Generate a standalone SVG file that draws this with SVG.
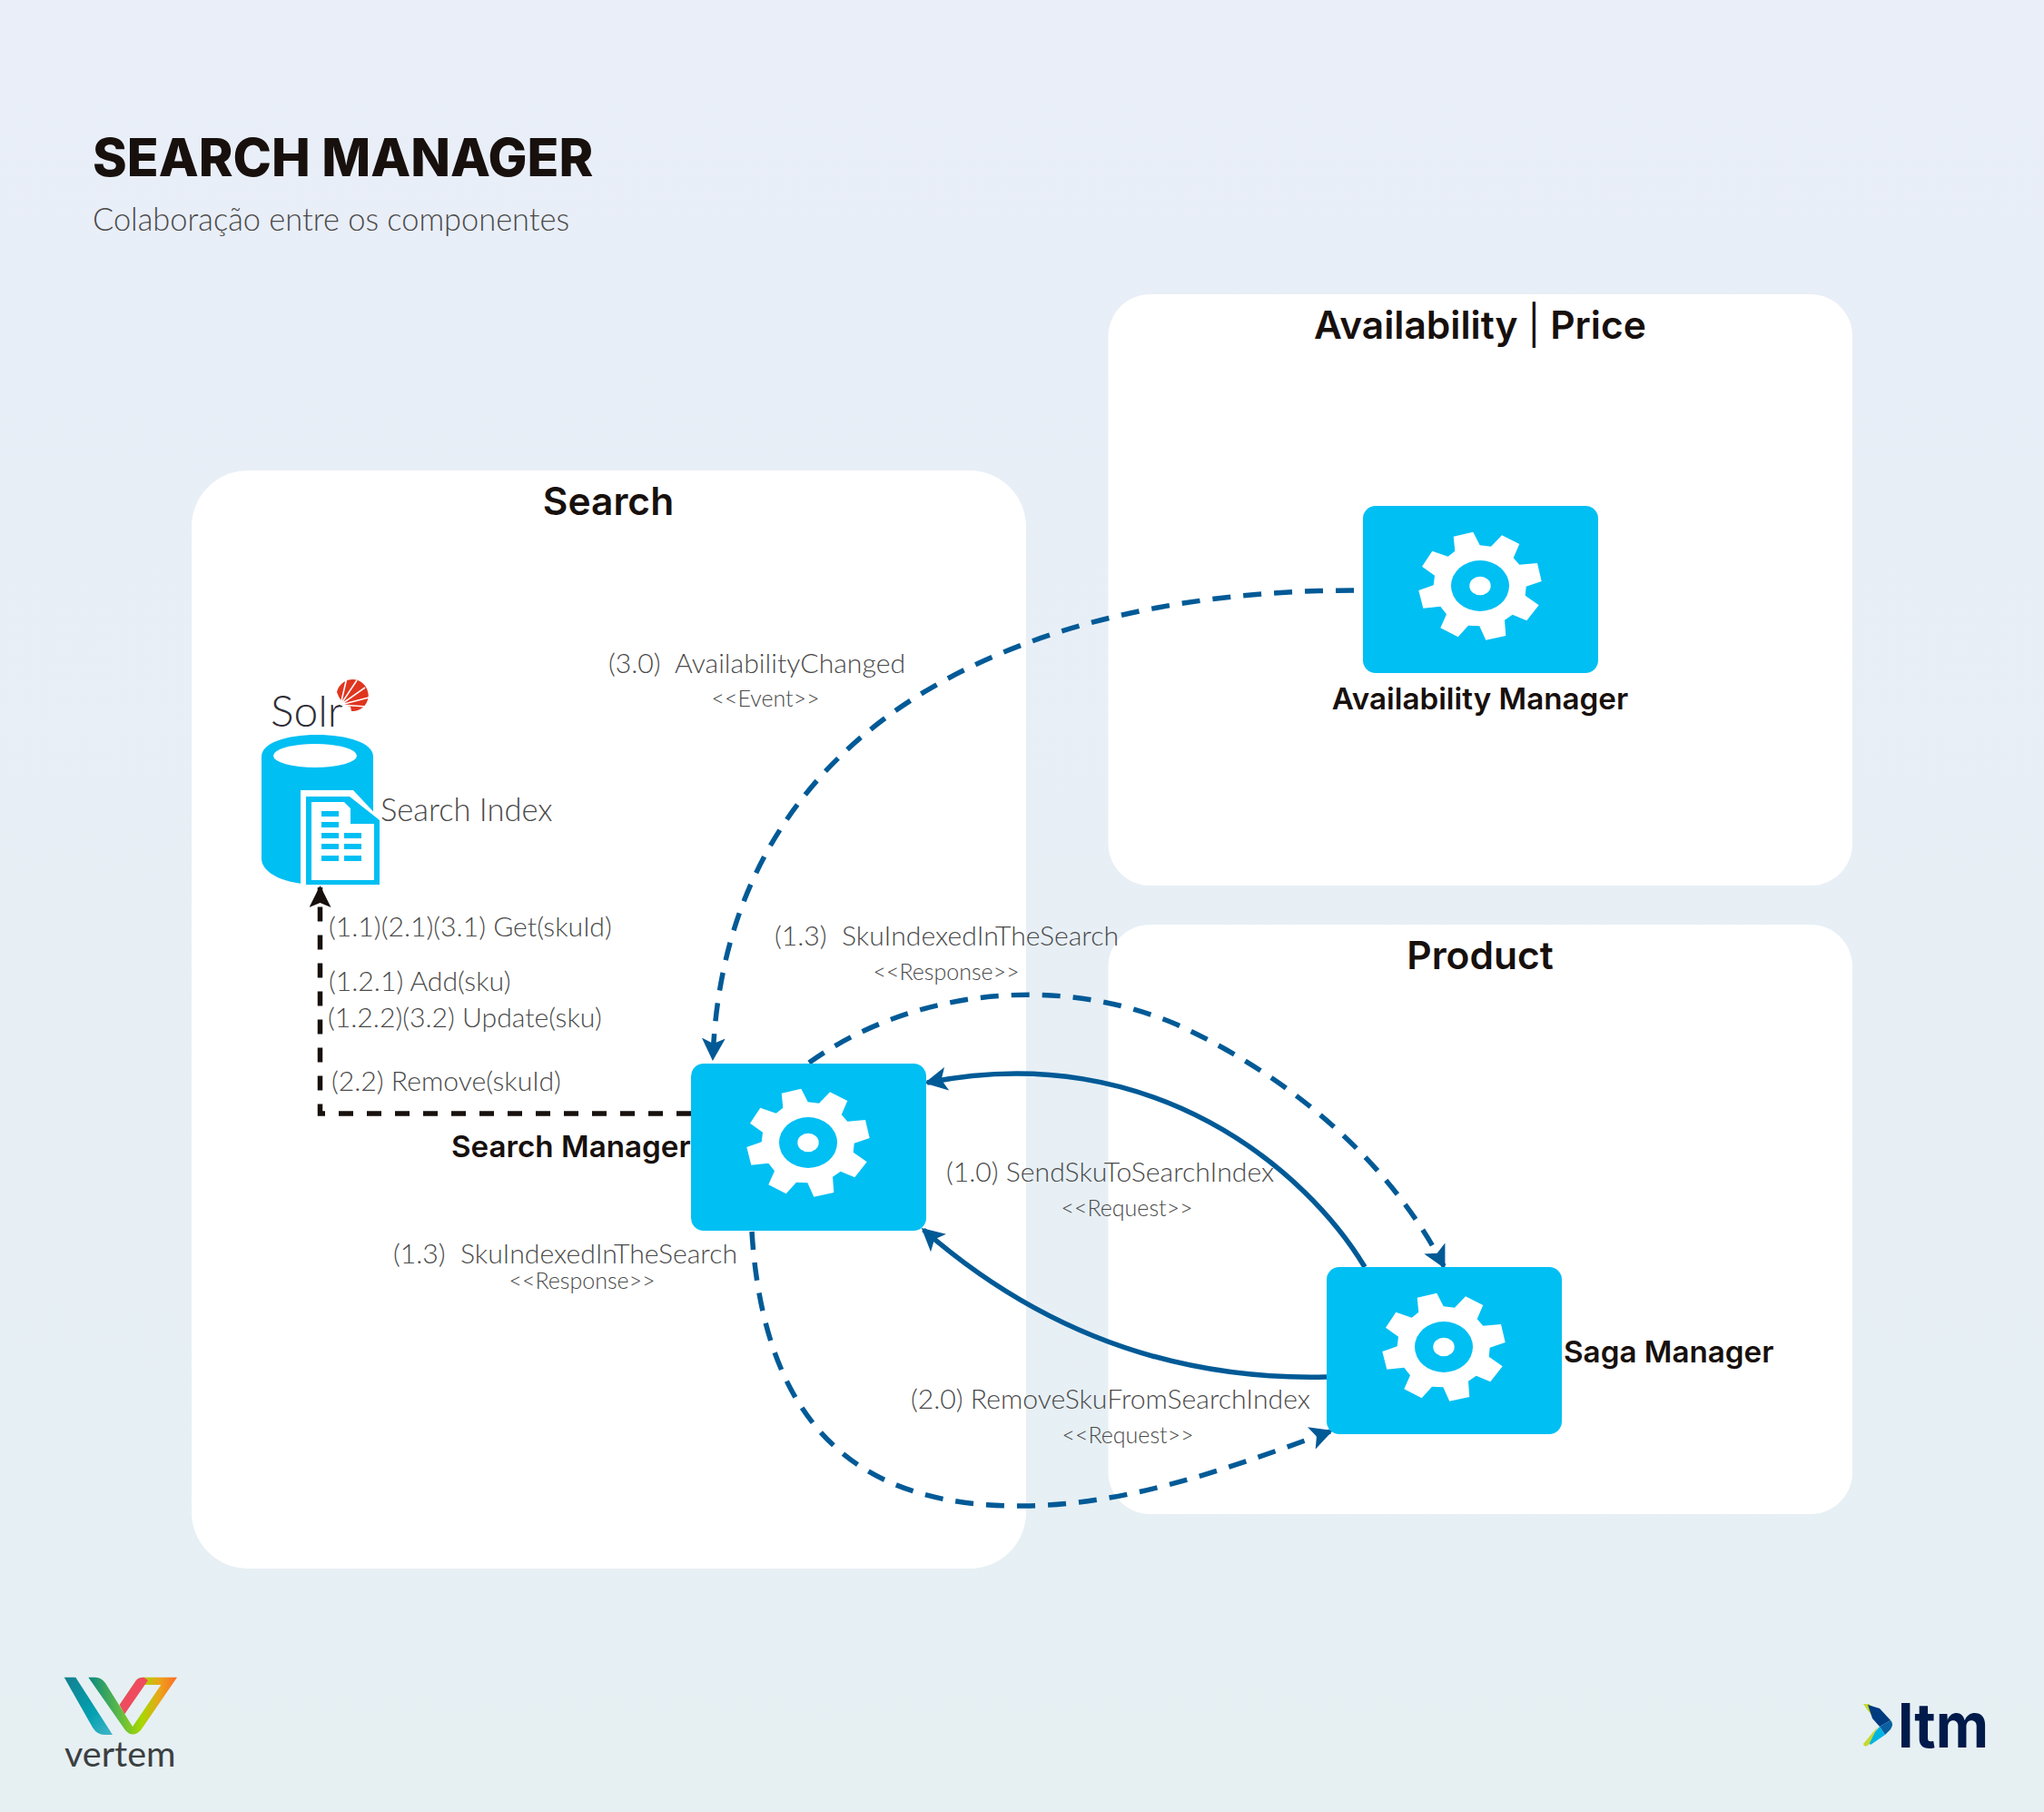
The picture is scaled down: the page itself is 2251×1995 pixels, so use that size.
<svg xmlns="http://www.w3.org/2000/svg" width="2251" height="1995" viewBox="0 0 2251 1995">
<style>
.panel{fill:#fff}
.box{fill:#00bff3}
.gear{fill:#fff}
.h{font-family:Inter,"Liberation Sans",sans-serif;font-weight:600;fill:#17100d;text-anchor:middle;font-size:42.500px}
.n{font-family:Inter,"Liberation Sans",sans-serif;font-weight:600;fill:#17100d;font-size:33.200px}
.l{font-family:Lato,"Liberation Sans",sans-serif;font-weight:300;fill:#4a4a4a;font-size:30.200px}
.s{font-family:Lato,"Liberation Sans",sans-serif;font-weight:300;fill:#4a4a4a;font-size:25px;text-anchor:middle}
.d{fill:none;stroke:#005a96;stroke-width:5.500;stroke-dasharray:20 14}
.f{fill:none;stroke:#005a96;stroke-width:5.500}
.k{fill:none;stroke:#17100d;stroke-width:5.500;stroke-dasharray:16 15}
</style>
<defs>
<linearGradient id="bg" x1="0" y1="0" x2="0" y2="1"><stop offset="0" stop-color="#e9eef8"/><stop offset="1" stop-color="#e6f0f3"/></linearGradient>
<linearGradient id="vg1" x1="0" y1="0" x2="1" y2="1"><stop offset="0" stop-color="#14808f"/><stop offset=".6" stop-color="#02a0b0"/><stop offset="1" stop-color="#45b6c8"/></linearGradient>
<linearGradient id="vg2" gradientUnits="userSpaceOnUse" x1="98" y1="1850" x2="195" y2="1850"><stop offset="0" stop-color="#0a8a80"/><stop offset=".35" stop-color="#5fbb45"/><stop offset=".6" stop-color="#a8d800"/><stop offset=".8" stop-color="#eba51a"/><stop offset="1" stop-color="#ff6a26"/></linearGradient>
<marker id="ab" markerUnits="userSpaceOnUse" markerWidth="28" markerHeight="26" refX="22" refY="13" orient="auto"><path d="M25 13L0 0L6 13L0 26Z" fill="#005a96"/></marker>
<marker id="ak" markerUnits="userSpaceOnUse" markerWidth="26" markerHeight="24" refX="22" refY="12" orient="auto"><path d="M24 12L0 0L5 12L0 24Z" fill="#17100d"/></marker>
<polygon id="g" class="gear" points="-29.3,-54.3 -7.7,-59.3 -.3,-44.7 12,-43.3 24,-55.7 43.3,-46 36.7,-30.7 43.3,-23.3 63,-25 67.7,-5 50.7,.7 49.7,10.7 64.7,21.3 51.3,38.3 35.7,31.7 27,37.7 28.3,55 6.3,59.7 -.7,44.3 -13,43.7 -24.3,56.3 -43.7,46.3 -37,31.3 -43.7,22.7 -62.7,24.7 -67.7,5 -51.3,-.7 -50,-11.3 -64,-21.3 -52.7,-38.3 -35.3,-32.3 -27.7,-38.3"/>
<g id="gearIcon"><use href="#g"/><ellipse rx="32" ry="28" fill="#00bff3"/><ellipse rx="11.7" ry="10.3" fill="#fff"/></g>
</defs>
<rect width="2251" height="1995" fill="url(#bg)"/>
<g id="title">
<text x="102" y="194" font-family="Inter,'Liberation Sans',sans-serif" font-weight="800" font-size="57.200" fill="#17100d">SEARCH MANAGER</text>
<text x="102" y="254" font-family="Lato,'Liberation Sans',sans-serif" font-weight="300" font-size="34.400" fill="#4a4a4a">Colaboração entre os componentes</text>
</g>
<g id="panel-search"><rect class="panel" x="211" y="518" width="919" height="1209" rx="62"/><text class="h" x="670" y="567">Search</text></g>
<g id="panel-availability"><rect class="panel" x="1220.500" y="324" width="819.500" height="651" rx="46"/><text class="h" x="1630" y="373">Availability <tspan font-weight="400">|</tspan> Price</text></g>
<g id="panel-product"><rect class="panel" x="1220.500" y="1018" width="819.500" height="649" rx="46"/><text class="h" x="1630" y="1067">Product</text></g>
<g id="connectors">
<path class="k" d="M761 1226H352.500V977" marker-end="url(#ak)"/>
<path class="d" d="M1491 650C1150 650 800 780 785 1165" marker-end="url(#ab)"/>
<path class="d" d="M891 1170C1000 1092 1160 1070 1296 1128C1425 1187 1532 1282 1590 1394" marker-end="url(#ab)"/>
<path class="d" d="M828 1356C842 1580 955 1660 1128 1658C1250 1657 1370 1610 1465 1576" marker-end="url(#ab)"/>
<path class="f" d="M1503 1395C1440 1290 1270 1142 1021 1192" marker-end="url(#ab)"/>
<path class="f" d="M1461 1516C1300 1520 1150 1470 1017 1354" marker-end="url(#ab)"/>
</g>
<g id="search-index">
<path class="box" d="M288 833C288 818 315 809 349 809C383 809 411 818 411 833V974H349C315 974 288 962 288 945Z"/>
<ellipse cx="347" cy="832" rx="46" ry="13" fill="#fff"/>
<path d="M331 870H389L419 902V974H331Z" fill="#fff"/>
<path class="box" d="M337 877H385L418 903V974H337Z"/>
<path d="M343 883H379L386 890V907H412V969H343Z" fill="#fff"/>
<g class="box"><rect x="354" y="893" width="19" height="6"/><rect x="354" y="905" width="19" height="6"/><rect x="354" y="917" width="19" height="6"/><rect x="379" y="917" width="19" height="6"/><rect x="354" y="929" width="19" height="6"/><rect x="379" y="929" width="19" height="6"/><rect x="354" y="942" width="19" height="6"/><rect x="379" y="942" width="19" height="6"/></g>
<text x="298" y="800" font-family="Lato,'Liberation Sans',sans-serif" font-weight="300" font-size="48" fill="#2f2d35">Solr</text>
<path d="M371 762A17.500 17.500 0 1 1 387 783L386 778C378 777 374 770 371 762Z" fill="#e0351f"/>
<path d="M375 776L382 746M375 776L393 749M375 776L402 757M375 776L406 768M375 776L404 778" stroke="#fff" stroke-width="1.600" fill="none"/>
<text class="l" x="419" y="904" style="font-size:34.500px">Search Index</text>
</g>
<g id="search-manager">
<rect class="box" x="761" y="1171" width="259" height="184" rx="14"/><use href="#gearIcon" x="890" y="1258"/>
<text class="n" x="497" y="1274">Search Manager</text>
</g>
<g id="availability-manager">
<rect class="box" x="1501" y="557" width="259" height="184" rx="14"/><use href="#gearIcon" x="1630" y="645"/>
<text class="n" x="1630" y="781" text-anchor="middle">Availability Manager</text>
</g>
<g id="saga-manager">
<rect class="box" x="1461" y="1395" width="259" height="184" rx="14"/><use href="#gearIcon" x="1590" y="1483"/>
<text class="n" x="1722" y="1500">Saga Manager</text>
</g>
<g id="labels">
<text class="l" x="670" y="741" xml:space="preserve">(3.0)  AvailabilityChanged</text>
<text class="s" x="843" y="778">&lt;&lt;Event&gt;&gt;</text>
<text class="l" x="362" y="1031">(1.1)(2.1)(3.1) Get(skuId)</text>
<text class="l" x="362" y="1091">(1.2.1) Add(sku)</text>
<text class="l" x="361" y="1131">(1.2.2)(3.2) Update(sku)</text>
<text class="l" x="365" y="1201">(2.2) Remove(skuId)</text>
<text class="l" x="433" y="1391" xml:space="preserve">(1.3)  SkuIndexedInTheSearch</text>
<text class="s" x="641" y="1419">&lt;&lt;Response&gt;&gt;</text>
<text class="l" x="853" y="1041" xml:space="preserve">(1.3)  SkuIndexedInTheSearch</text>
<text class="s" x="1042" y="1079">&lt;&lt;Response&gt;&gt;</text>
<text class="l" x="1042" y="1301">(1.0) SendSkuToSearchIndex</text>
<text class="s" x="1241" y="1339">&lt;&lt;Request&gt;&gt;</text>
<text class="l" x="1003" y="1551">(2.0) RemoveSkuFromSearchIndex</text>
<text class="s" x="1242" y="1589">&lt;&lt;Request&gt;&gt;</text>
</g>
<g id="logo-vertem">
<path d="M70.700 1846.700H83.300L124 1910H115Q107 1910 102 1902Z" fill="url(#vg1)"/>
<path d="M97.300 1846.700H105Q112 1847 116 1853L146 1901L177.300 1855H158.300L137.300 1887L131.700 1877L150 1850Q153 1846.700 158.300 1846.700H195L155 1905Q146 1914 138 1905Z" fill="url(#vg2)"/>
<path d="M150 1850Q153 1846.700 158.300 1846.700L163 1850L137.300 1887L131.700 1877Z" fill="#ef4b5f"/>
<text x="71" y="1945" font-family="Lato,'Liberation Sans',sans-serif" font-size="39.500" fill="#3c3f41">vertem</text>
</g>
<g id="logo-ltm">
<path d="M2052 1876L2058 1876L2082 1894L2070 1900L2056 1882Z" fill="#c5d92d"/>
<path d="M2057 1877L2070 1881L2082 1894L2070 1901L2062 1892Z" fill="#003b80"/>
<path d="M2082 1894Q2086 1898 2082 1904L2076 1910L2070 1901Z" fill="#0a5fa0"/>
<path d="M2070 1901L2076 1910L2060 1921L2056 1917Z" fill="#00b5e2"/>
<path d="M2052 1920L2068 1901L2058 1921Q2053 1925 2052 1920Z" fill="#c5d92d"/>
<text x="2090" y="1924" font-family="Inter,'Liberation Sans',sans-serif" font-weight="700" font-size="67" fill="#001a4a" textLength="100" lengthAdjust="spacingAndGlyphs">ltm</text>
</g>
</svg>
